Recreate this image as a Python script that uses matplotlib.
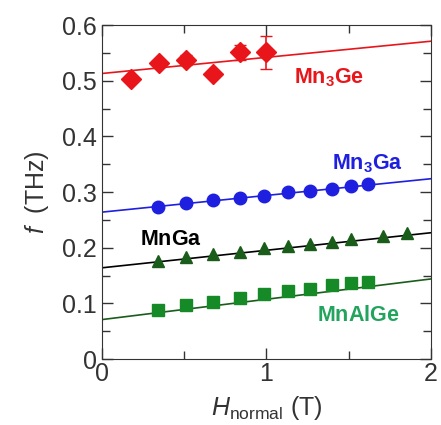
import numpy as np
import matplotlib.pyplot as plt
from matplotlib.ticker import MultipleLocator, FuncFormatter

plt.rcParams['font.family'] = ['Liberation Sans', 'DejaVu Sans']
plt.rcParams['mathtext.fontset'] = 'custom'
plt.rcParams['mathtext.rm'] = 'Liberation Sans'
plt.rcParams['mathtext.it'] = 'Liberation Sans:italic'
plt.rcParams['mathtext.bf'] = 'Liberation Sans:bold'

# Mn3Ge
h_ge = [0.176, 0.35, 0.51, 0.677, 0.84, 0.995]
f_ge = [0.503, 0.531, 0.538, 0.512, 0.551, 0.551]
err_ge = [0.004, 0.006, 0.009, 0.005, 0.013, 0.03]
fit_ge = [0.513, 0.571]

# Mn3Ga
h_ga = [0.342, 0.511, 0.677, 0.839, 0.985, 1.133, 1.264, 1.396, 1.514, 1.619]
f_ga = [0.273, 0.281, 0.285, 0.290, 0.293, 0.300, 0.302, 0.306, 0.311, 0.314]
fit_ga = [0.264, 0.324]

# MnGa
h_mnga = [0.342, 0.511, 0.677, 0.839, 0.985, 1.133, 1.264, 1.396, 1.514, 1.71, 1.856]
f_mnga = [0.176, 0.183, 0.188, 0.193, 0.199, 0.203, 0.206, 0.211, 0.215, 0.221, 0.226]
fit_mnga = [0.164, 0.227]

# MnAlGe
h_al = [0.342, 0.511, 0.677, 0.839, 0.985, 1.133, 1.264, 1.396, 1.514, 1.619]
f_al = [0.088, 0.097, 0.103, 0.109, 0.117, 0.122, 0.126, 0.133, 0.136, 0.139]
fit_al = [0.071, 0.144]

fit_x = [0, 2]

red = '#e8161b'
blue = '#1f1fe0'
dgreen = '#1a5c1a'
green = '#168a26'
gray = '#333333'

fig = plt.figure(figsize=(4.41, 4.25), dpi=100)
ax = fig.add_axes([0.231, 0.155, 0.746, 0.786])

ax.plot(fit_x, fit_ge, color=red, lw=1.2)
ax.errorbar(h_ge, f_ge, yerr=err_ge, fmt='D', color=red, ms=10, capsize=4, elinewidth=1.2)
ax.plot(fit_x, fit_ga, color=blue, lw=1.2)
ax.plot(h_ga, f_ga, 'o', color=blue, ms=9)
ax.plot(fit_x, fit_mnga, color='black', lw=1.2)
ax.plot(h_mnga, f_mnga, '^', color=dgreen, ms=9)
ax.plot(fit_x, fit_al, color=dgreen, lw=1.2)
ax.plot(h_al, f_al, 's', color=green, ms=8.5)

ax.text(1.17, 0.506, r'$\mathbf{Mn_3Ge}$', color=red, fontsize=15.5, va='center')
ax.text(1.40, 0.351, r'$\mathbf{Mn_3Ga}$', color=blue, fontsize=15.5, va='center')
ax.text(0.23, 0.214, r'$\mathbf{MnGa}$', color='black', fontsize=15.5, va='center')
ax.text(1.31, 0.079, r'$\mathbf{MnAlGe}$', color='#22a35e', fontsize=15.5, va='center')

ax.set_xlim(0, 2)
ax.set_ylim(0, 0.6)
ax.xaxis.set_major_locator(MultipleLocator(1))
ax.xaxis.set_minor_locator(MultipleLocator(0.5))
ax.yaxis.set_major_locator(MultipleLocator(0.1))
ax.yaxis.set_minor_locator(MultipleLocator(0.05))
ax.yaxis.set_major_formatter(FuncFormatter(lambda v, p: '0' if abs(v) < 1e-9 else f'{v:.1f}'))
ax.tick_params(which='both', direction='in', top=True, right=True, labelsize=18,
               color=gray, labelcolor=gray)
ax.tick_params(which='major', length=8, width=1)
ax.tick_params(which='minor', length=6, width=1)
ax.tick_params(axis='x', pad=2)
for s in ax.spines.values():
    s.set_color(gray)

ax.set_ylabel(r'$f$  (THz)', fontsize=18, labelpad=8, color=gray)
ax.set_xlabel(r'$H_{\rm normal}$ (T)', fontsize=18, labelpad=6, color=gray)

fig.savefig('out.png', dpi=100)
